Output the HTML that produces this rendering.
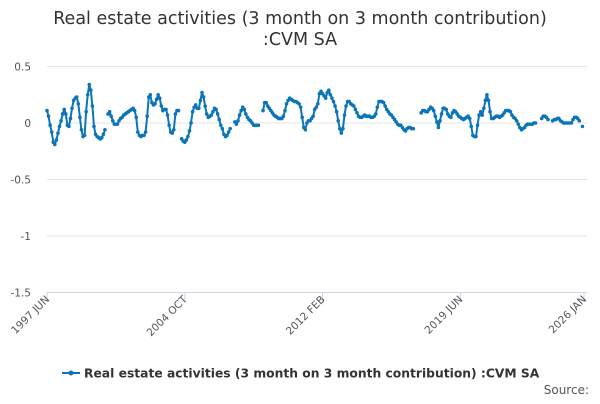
<!DOCTYPE html>
<html><head><meta charset="utf-8"><style>
body{margin:0;background:#fff;width:600px;height:400px;overflow:hidden;font-family:"DejaVu Sans","Liberation Sans",sans-serif}
svg text{font-family:"DejaVu Sans","Liberation Sans",sans-serif}
</style></head><body>
<svg id="chart" width="600" height="400" xmlns="http://www.w3.org/2000/svg">
<text x="300" y="24" text-anchor="middle" font-size="17.5" fill="#333"><tspan x="300">Real estate activities (3 month on 3 month contribution)</tspan><tspan x="300" dy="21">:CVM SA</tspan></text>
<g id="grid"></g><g id="xaxis"></g><g id="series"></g>
<g>
<line x1="62" y1="373" x2="80" y2="373" stroke="#0b75b8" stroke-width="2"/>
<circle cx="71" cy="373" r="2.5" fill="#0b75b8"/>
<text x="84" y="377.5" font-size="12.3" font-weight="bold" fill="#333">Real estate activities (3 month on 3 month contribution) :CVM SA</text>
</g>
<text x="589" y="394" text-anchor="end" font-size="12" fill="#555">Source:</text>
</svg>
<script>
const yTicks=[0.5,0,-0.5,-1,-1.5];
const yTickLabels=["0.5","0","-0.5","-1","-1.5"];
const xTickMonths=[0,88,176,264,343];
const xTickLabels=["1997 JUN","2004 OCT","2012 FEB","2019 JUN","2026 JAN"];
const values=[0.11,0.06,-0.02,-0.08,-0.17,-0.19,-0.15,-0.09,-0.03,0.02,0.08,0.12,0.08,-0.02,-0.03,0.04,0.13,0.20,0.22,0.23,0.17,0.05,-0.06,-0.12,-0.11,0.10,0.25,0.34,0.29,0.15,-0.03,-0.10,-0.12,-0.13,-0.14,-0.13,-0.10,-0.06,null,0.08,
0.10,0.06,0.02,-0.01,-0.01,-0.01,0.02,0.04,0.05,0.07,0.08,0.09,0.10,0.11,0.12,0.13,0.11,0.05,-0.08,-0.11,-0.12,-0.11,-0.11,-0.08,0.06,0.23,0.25,0.18,0.16,0.17,
0.21,0.25,0.22,0.15,0.11,0.12,0.12,0.07,-0.02,-0.08,-0.09,-0.06,0.08,0.11,0.11,null,-0.14,-0.16,-0.17,-0.15,-0.12,-0.07,0.00,0.10,0.14,0.16,0.13,0.13,0.20,0.27,
0.23,0.15,0.08,0.05,0.06,0.07,0.10,0.13,0.12,0.08,0.03,-0.02,-0.05,-0.10,-0.12,-0.11,-0.08,-0.05,null,null,0.01,-0.01,0.02,0.07,0.11,0.14,0.12,0.08,0.05,0.03,
0.02,0.00,-0.02,-0.02,-0.02,-0.02,null,null,0.11,0.18,0.18,0.15,0.13,0.11,0.09,0.07,0.06,0.05,0.04,0.04,0.04,0.06,0.11,0.17,0.20,0.22,0.21,0.20,0.19,0.19,
0.18,0.17,0.14,0.05,-0.04,-0.06,0.00,0.02,0.02,0.04,0.06,0.12,0.14,0.17,0.26,0.28,0.26,0.24,0.22,0.27,0.29,0.25,0.22,0.19,0.15,0.10,0.02,-0.05,-0.09,-0.05,
0.07,0.15,0.19,0.19,0.17,0.16,0.15,0.12,0.09,0.06,0.05,0.05,0.06,0.07,0.06,0.06,0.06,0.05,0.05,0.06,0.08,0.14,0.19,0.19,0.19,0.18,0.15,0.12,0.10,0.08,
0.07,0.05,0.03,0.01,-0.01,-0.02,-0.02,-0.04,-0.06,-0.07,-0.05,-0.04,-0.04,-0.05,-0.05,null,null,null,null,0.09,0.11,0.11,0.10,0.10,0.12,0.14,0.13,0.11,0.06,0.01,
-0.04,0.02,0.08,0.13,0.13,0.12,0.08,0.06,0.05,0.09,0.11,0.10,0.08,0.06,0.05,0.04,0.03,0.04,0.05,0.06,0.04,-0.03,-0.11,-0.12,-0.12,-0.02,0.07,0.10,0.07,0.13,
0.20,0.25,0.20,0.10,0.04,0.04,0.05,0.06,0.06,0.05,0.06,0.07,0.09,0.11,0.11,0.11,0.10,0.07,0.05,0.04,0.02,-0.01,-0.04,-0.06,-0.05,-0.04,-0.02,-0.01,-0.01,-0.01,
-0.01,0.00,0.00,null,null,null,0.04,0.06,0.06,0.05,0.03,null,null,0.02,0.03,0.03,0.04,0.04,0.02,0.01,0.00,0.00,0.00,0.00,0.00,0.00,0.03,0.05,0.05,0.04,
0.02,null,-0.03];
const NS="http://www.w3.org/2000/svg";
const X0=47,X1=584,Y0=123,PPU=113,NM=343;
const xs=i=>X0+(X1-X0)*i/NM;
const ys=v=>Y0-v*PPU;
function mk(t,a,p){const e=document.createElementNS(NS,t);for(const k in a)e.setAttribute(k,a[k]);p.appendChild(e);return e;}
const grid=document.getElementById('grid'),xa=document.getElementById('xaxis'),ser=document.getElementById('series');
yTicks.forEach((v,k)=>{
  const l=mk('line',{x1:X0,x2:X1+3,y1:ys(v),y2:ys(v),stroke:v===-1.5?'#ccd6eb':'#e6e6e6','stroke-width':1},grid);
  
  
  const t=mk('text',{x:31,y:ys(v)+4,'text-anchor':'end','font-size':10.5,fill:'#555'},grid);
  t.textContent=yTickLabels[k];
  
  
});
xTickMonths.forEach((m,k)=>{
  const x=xs(m);
  const tk=mk('line',{x1:x,x2:x,y1:292,y2:302,stroke:'#ccd6eb'},xa);
  
  
  const t=mk('text',{x:x+3,y:300,'text-anchor':'end','font-size':10.5,fill:'#555',transform:`rotate(-45 ${x+3} 300)`},xa);
  t.textContent=xTickLabels[k];
  
  
});
let d='',pen=false;
values.forEach((v,i)=>{
  if(v===null){pen=false;return;}
  d+=(pen?'L':'M')+xs(i).toFixed(1)+' '+ys(v).toFixed(1);pen=true;
});
const p=mk('path',{d:d,fill:'none',stroke:'#0b75b8','stroke-width':2,'stroke-linejoin':'round'},ser);


values.forEach((v,i)=>{
  if(v===null)return;
  const c=mk('circle',{cx:xs(i),cy:ys(v),r:1.8,fill:'#0b75b8'},ser);
  
  
});
</script>
</body></html>
